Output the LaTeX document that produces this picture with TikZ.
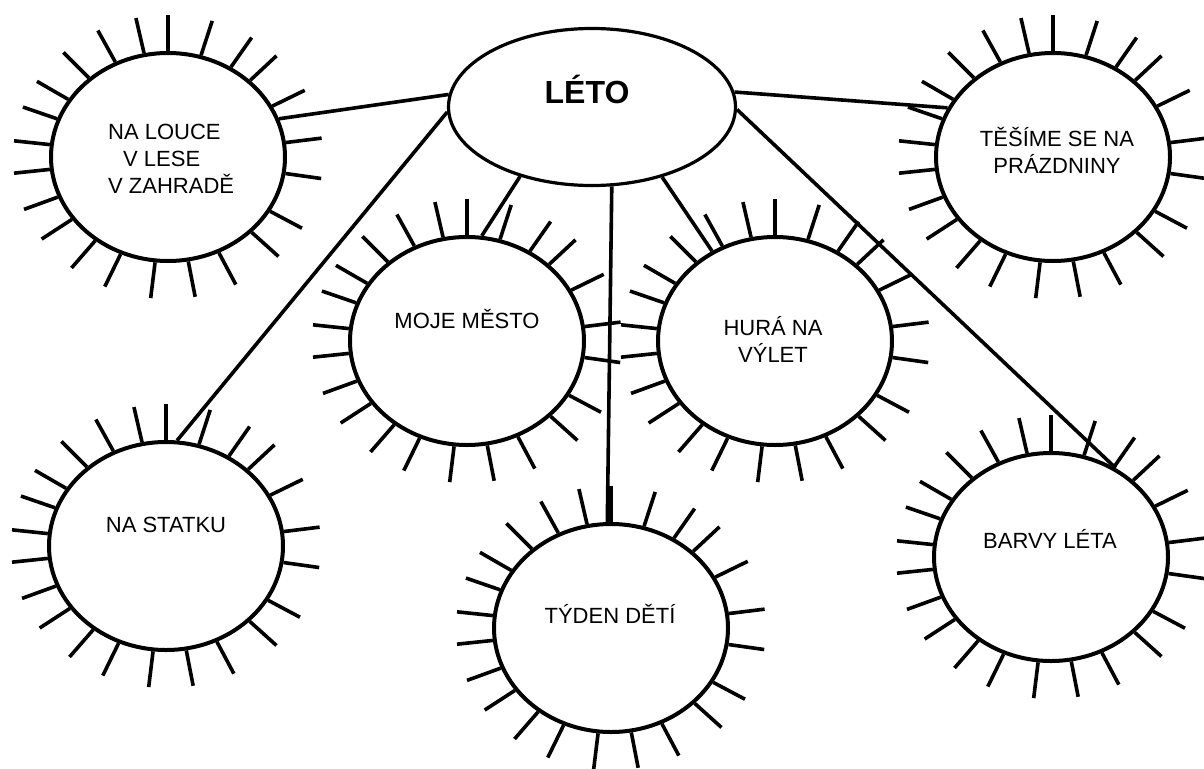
\documentclass[tikz,border=0pt]{standalone}
\usepackage{fontspec}
\setmainfont{Liberation Sans}
\usetikzlibrary{shapes.geometric,calc}

\begin{document}
\begin{tikzpicture}[
  x=1pt, y=-1pt,
  font=\fontsize{22}{27}\selectfont,
  sun/.style={draw, ellipse, line width=4pt, minimum width=234pt, minimum height=208pt, inner sep=0pt},
  hub/.style={draw, ellipse, line width=3.2pt, minimum width=287pt, minimum height=157pt, inner sep=0pt},
  txt/.style={inner sep=0pt, align=center, anchor=base},
  ray/.style={line width=3.6pt},
  link/.style={line width=3.6pt}
]
\useasboundingbox (0,0) rectangle (1204,768);

% ---- centre ----
\node[hub] (leto) at (592,107) {};
\node[txt, font=\fontsize{32}{32}\selectfont\bfseries] (letot) at (587,103) {LÉTO};

% ---- suns ----
\node[sun] (louce)  at (168,157)  {};
\node[sun] (tesime) at (1053,157) {};
\node[sun] (mesto)  at (467,341)  {};
\node[sun] (hura)   at (775,341)  {};
\node[sun] (statku) at (166,546)  {};
\node[sun] (tyden)  at (611,628)  {};
\node[sun] (barvy)  at (1051,557) {};

% rays, same pattern on every sun
\foreach \n in {louce,tesime,mesto,hura,statku,tyden,barvy}
  \foreach \a in {90,72,55,43,26,7,-8,-28,-42,-62,-79,-97,-116,-131,-147,-160,-174,174,161,150,135,119,103}
    \draw[ray] (\n.\a) -- ($(\n.\a)!-36pt!(\n.center)$);

% ---- texts (base = last line) ----
\node[txt, align=left, anchor=base west] (loucet) at (108,193) {NA LOUCE\\\hspace*{15pt}V LESE\\V ZAHRADĚ};
\node[txt] (tesimet) at (1057,173) {TĚŠÍME SE NA\\PRÁZDNINY};
\node[txt] (mestot)  at (467,328)  {MOJE MĚSTO};
\node[txt] (hurat)   at (773,362)  {HURÁ NA\\VÝLET};
\node[txt] (statkut) at (166,532)  {NA STATKU};
\node[txt] (tydent)  at (610,623)  {TÝDEN DĚTÍ};
\node[txt] (barvyt)  at (1050,548) {BARVY LÉTA};

% ---- links ----
\draw[link] (leto.175) -- (louce.19);
\draw[link] (leto.182) -- (statku.84);
\draw[link] (leto.224) -- (mesto.82);
\draw[link] (leto.284) -- (tyden.92);
\draw[link] (leto.315) -- (hura.125);
\draw[link] (leto.359) -- (barvy.54);
\draw[link] (leto.6) -- (tesime.155);

\end{tikzpicture}
\end{document}
